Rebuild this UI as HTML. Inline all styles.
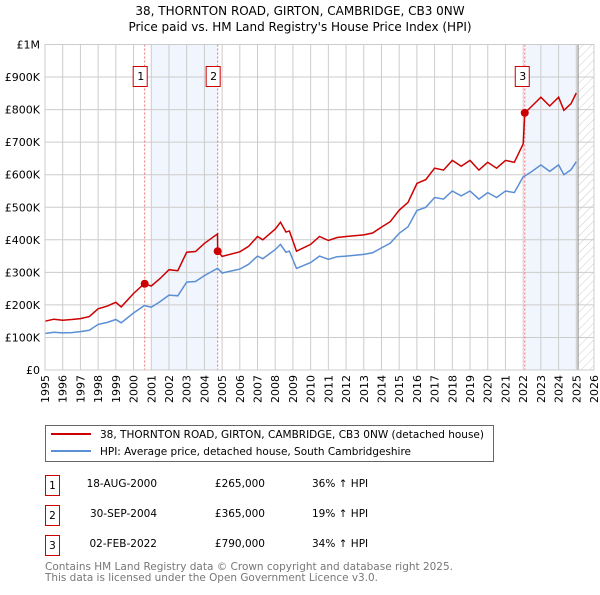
<!DOCTYPE html>
<html><head><meta charset="utf-8"><style>
body{margin:0;background:#fff;}
svg text{font-family:"DejaVu Sans","Liberation Sans",sans-serif;}
</style></head><body>
<svg id="chart" width="600" height="590" viewBox="0 0 600 590" xmlns="http://www.w3.org/2000/svg">
<text x="300" y="15" font-size="12" text-anchor="middle">38, THORNTON ROAD, GIRTON, CAMBRIDGE, CB3 0NW</text>
<text x="300" y="31" font-size="12" text-anchor="middle">Price paid vs. HM Land Registry's House Price Index (HPI)</text>
<defs><pattern id="hatch" patternUnits="userSpaceOnUse" width="6" height="6" patternTransform="rotate(45)"><line x1="0" y1="0" x2="0" y2="6" stroke="#ccc" stroke-width="1"/></pattern></defs>
<g id="plot"></g>
<g>
<rect x="45.5" y="425.5" width="448" height="36" fill="#fff" stroke="#666"/>
<line x1="51" y1="434" x2="91" y2="434" stroke="#cc0000" stroke-width="2"/>
<text x="100" y="438" font-size="10.5" textLength="384" lengthAdjust="spacingAndGlyphs">38, THORNTON ROAD, GIRTON, CAMBRIDGE, CB3 0NW (detached house)</text>
<line x1="51" y1="451" x2="91" y2="451" stroke="#5b8fd4" stroke-width="2"/>
<text x="100" y="455" font-size="10.5" textLength="311" lengthAdjust="spacingAndGlyphs">HPI: Average price, detached house, South Cambridgeshire</text>
</g>
<g font-size="10.5">
<rect x="45.5" y="475.5" width="14" height="20" fill="#fff" stroke="#cc0000"/><text x="52.5" y="489" text-anchor="middle">1</text>
<text x="157" y="487" text-anchor="end">18-AUG-2000</text><text x="265" y="487" text-anchor="end">£265,000</text><text x="312" y="487">36% ↑ HPI</text>
<rect x="45.5" y="505.5" width="14" height="20" fill="#fff" stroke="#cc0000"/><text x="52.5" y="519" text-anchor="middle">2</text>
<text x="157" y="517" text-anchor="end">30-SEP-2004</text><text x="265" y="517" text-anchor="end">£365,000</text><text x="312" y="517">19% ↑ HPI</text>
<rect x="45.5" y="535.5" width="14" height="20" fill="#fff" stroke="#cc0000"/><text x="52.5" y="549" text-anchor="middle">3</text>
<text x="157" y="547" text-anchor="end">02-FEB-2022</text><text x="265" y="547" text-anchor="end">£790,000</text><text x="312" y="547">34% ↑ HPI</text>
</g>
<text x="45" y="570" font-size="10.5" fill="#777" textLength="408" lengthAdjust="spacingAndGlyphs">Contains HM Land Registry data © Crown copyright and database right 2025.</text>
<text x="45" y="581" font-size="10.5" fill="#777" textLength="333" lengthAdjust="spacingAndGlyphs">This data is licensed under the Open Government Licence v3.0.</text>
</svg>
<script>
const dates=[1995,1995.5,1996,1996.5,1997,1997.5,1998,1998.5,1999,1999.3,2000,2000.6,2001,2001.5,2002,2002.5,2003,2003.5,2004,2004.74,2004.75,2005,2006,2006.5,2007,2007.3,2008,2008.3,2008.6,2008.8,2009.2,2010,2010.5,2011,2011.5,2012,2013,2013.5,2014,2014.5,2015,2015.5,2016,2016.5,2017,2017.5,2018,2018.5,2019,2019.5,2020,2020.5,2021,2021.5,2022.0,2022.09,2022.5,2023,2023.5,2024,2024.3,2024.7,2025];
const hpiValues=[112,116,114,115,118,122,140,146,155,145,175,198,193,210,230,228,270,272,290,312,312,298,310,325,350,342,370,386,362,365,312,330,350,340,348,350,355,360,375,390,420,440,490,500,530,525,550,535,550,525,545,530,550,545,594,596,610,630,610,630,600,615,640];
const priceValues=[150,156,153,155,158,164,188,196,208,194,235,265,258,281,308,305,362,364,389,418,365,349,363,380,410,400,433,454,424,427,365,386,410,398,407,410,415,421,439,456,491,515,573,585,620,614,644,626,644,614,638,620,644,638,695,790,811,838,811,838,798,818,851];
const saleDates=[2000.63,2004.75,2022.09];
const saleValues=[265,365,790];
const saleLabels=["1","2","3"];
const yTicks=[0,100,200,300,400,500,600,700,800,900,1000];
const yTickLabels=["£0","£100K","£200K","£300K","£400K","£500K","£600K","£700K","£800K","£900K","£1M"];
const xTicks=[1995,1996,1997,1998,1999,2000,2001,2002,2003,2004,2005,2006,2007,2008,2009,2010,2011,2012,2013,2014,2015,2016,2017,2018,2019,2020,2021,2022,2023,2024,2025,2026];

const X0=45,X1=594,Y0=370,Y1=44.5;
const xs=t=>X0+(t-1995)/(2026-1995)*(X1-X0);
const ys=v=>Y0-v/1000*(Y0-Y1);
const NS="http://www.w3.org/2000/svg";
const plot=document.getElementById('plot');
function mk(tag,attrs,parent){const e=document.createElementNS(NS,tag);for(const k in attrs)e.setAttribute(k,attrs[k]);(parent||plot).appendChild(e);return e;}

let s=mk('rect',{x:xs(2001),y:Y1,width:xs(2004.75)-xs(2001),height:Y0-Y1,fill:'#eef3fc',opacity:0.8});


s=mk('rect',{x:xs(2022.09),y:Y1,width:xs(2025.1)-xs(2022.09),height:Y0-Y1,fill:'#eef3fc',opacity:0.8});


s=mk('rect',{x:xs(2025.1),y:Y1,width:X1-xs(2025.1),height:Y0-Y1,fill:'url(#hatch)'});



yTicks.forEach((v,i)=>{
  const y=ys(v);
  const g=mk('line',{x1:X0,x2:X1,y1:y,y2:y,stroke:'#ccc','stroke-width':1});
  
  
  const t=mk('text',{x:40,y:y+4,'font-size':11,'text-anchor':'end'});
  t.textContent=yTickLabels[i];
  
  
});
xTicks.forEach(yr=>{
  const x=xs(yr);
  const g=mk('line',{x1:x,x2:x,y1:Y1,y2:Y0,stroke:'#ccc','stroke-width':1});
  
  
  const t=mk('text',{x:0,y:0,'font-size':11,'text-anchor':'end',transform:`translate(${x+4},375) rotate(-90)`});
  t.textContent=yr;
  
  
});
const cur=mk('line',{x1:xs(2025.1),x2:xs(2025.1),y1:Y1,y2:Y0,stroke:'#888','stroke-width':1});



saleDates.forEach((d,i)=>{
  const l=mk('line',{x1:xs(d),x2:xs(d),y1:Y1,y2:Y0,stroke:'#f07070','stroke-width':1,'stroke-dasharray':'2,2'});
  
  
});

const path=vals=>vals.map((v,i)=>(i?'L':'M')+xs(dates[i]).toFixed(1)+','+ys(v).toFixed(1)).join('');
const hp=mk('path',{d:path(hpiValues),fill:'none',stroke:'#5b8fd4','stroke-width':1.5});


const pp=mk('path',{d:path(priceValues),fill:'none',stroke:'#cc0000','stroke-width':1.5});



saleDates.forEach((d,i)=>{
  const c=mk('circle',{cx:xs(d),cy:ys(saleValues[i]),r:4,fill:'#cc0000'});
  
  
  const r=mk('rect',{x:xs(d)-(i===2?9:11)-0.5,y:66.5,width:14,height:20,fill:'#fff',stroke:'#cc0000'});
  
  
  const t=mk('text',{x:xs(d)-(i===2?2:4),y:80,'font-size':11,'text-anchor':'middle'});
  t.textContent=saleLabels[i];
  
  
});
const fr=mk('rect',{x:X0,y:Y1,width:X1-X0,height:Y0-Y1,fill:'none',stroke:'#ccc'});


</script>
</body></html>
